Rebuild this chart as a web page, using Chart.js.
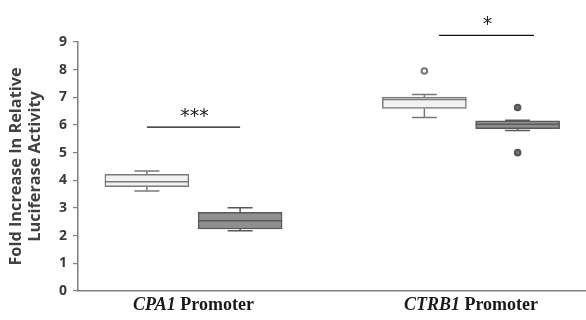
<!DOCTYPE html>
<html lang="en">
<head>
<meta charset="UTF-8" />
<title>Luciferase box plot</title>
<style>
  html, body { margin: 0; padding: 0; background: #fff; overflow: hidden; }
  canvas { display: block; }
</style>
</head>
<body>
<canvas id="myChart" width="586" height="320"></canvas>
<script src="https://cdn.jsdelivr.net/npm/chart.js"></script>
<script>
// groups on the x axis
const groups = ['CPA1', 'CTRB1'];
const groupX = [1, 2];

// light boxes (first of each pair)
const lightMin = [3.61, 6.27];
const lightQ1 = [3.77, 6.60];
const lightMed = [3.95, 6.92];
const lightQ3 = [4.22, 7.01];
const lightMax = [4.34, 7.10];
const lightOutliers = [[], [7.95]];

// dark boxes (second of each pair)
const darkMin = [2.18, 5.80];
const darkQ1 = [2.24, 5.87];
const darkMed = [2.54, 6.03];
const darkQ3 = [2.84, 6.15];
const darkMax = [3.01, 6.17];
const darkOutliers = [[], [6.63, 5.00]];

// significance marks
const sigLabels = ['***', '*'];
const sigY = [5.92, 9.24];
const sigFrom = [0.832, 1.885];
const sigTo = [1.168, 2.227];

const yTicks = [0, 1, 2, 3, 4, 5, 6, 7, 8, 9];

const shift = 0.168;
const series = [
  { min: lightMin, q1: lightQ1, med: lightMed, q3: lightQ3, max: lightMax, out: lightOutliers,
    dx: -shift, fill: '#f2f2f2', line: '#7a7a7a', dotFill: '#ffffff', dotLine: '#777777' },
  { min: darkMin, q1: darkQ1, med: darkMed, q3: darkQ3, max: darkMax, out: darkOutliers,
    dx: shift, fill: '#8f8f8f', line: '#595959', dotFill: '#707070', dotLine: '#555555' }
];

const datasets = [];
series.forEach(function (s) {
  datasets.push({
    type: 'bar',
    data: groupX.map((g, i) => ({ x: g + s.dx, y: [s.q1[i], s.q3[i]] })),
    backgroundColor: s.fill,
    borderColor: s.line,
    borderWidth: 1.5,
    borderSkipped: false,
    grouped: false,
    barThickness: 84
  });
});
series.forEach(function (s) {
  const pts = [];
  groupX.forEach((g, i) => s.out[i].forEach(v => pts.push({ x: g + s.dx, y: v })));
  datasets.push({
    type: 'scatter',
    data: pts,
    pointRadius: 2.8,
    borderWidth: 2,
    backgroundColor: s.dotFill,
    borderColor: s.dotLine
  });
});

const boxExtras = {
  id: 'boxExtras',
  afterDatasetsDraw(chart) {
    const ctx = chart.ctx, y = chart.scales.y;
    ctx.save();
    series.forEach(function (s, d) {
      const meta = chart.getDatasetMeta(d);
      groupX.forEach(function (g, i) {
        const bar = meta.data[i];
        const cx = bar.x;
        const half = bar.width / 2;
        const cap = 12.5;
        ctx.strokeStyle = s.line;
        ctx.lineWidth = 1.5;
        ctx.beginPath();
        // whiskers
        ctx.moveTo(cx, y.getPixelForValue(s.q3[i]));
        ctx.lineTo(cx, y.getPixelForValue(s.max[i]));
        ctx.moveTo(cx - cap, y.getPixelForValue(s.max[i]));
        ctx.lineTo(cx + cap, y.getPixelForValue(s.max[i]));
        ctx.moveTo(cx, y.getPixelForValue(s.q1[i]));
        ctx.lineTo(cx, y.getPixelForValue(s.min[i]));
        ctx.moveTo(cx - cap, y.getPixelForValue(s.min[i]));
        ctx.lineTo(cx + cap, y.getPixelForValue(s.min[i]));
        // median
        ctx.moveTo(cx - half, y.getPixelForValue(s.med[i]));
        ctx.lineTo(cx + half, y.getPixelForValue(s.med[i]));
        ctx.stroke();
      });
    });
    ctx.restore();
  },
  afterDraw(chart) {
    const ctx = chart.ctx, x = chart.scales.x, y = chart.scales.y;
    ctx.save();
    // significance lines
    ctx.strokeStyle = '#111';
    ctx.lineWidth = 1.2;
    ctx.fillStyle = '#222';
    ctx.font = '19px "DejaVu Sans"';
    ctx.textAlign = 'center';
    ctx.textBaseline = 'alphabetic';
    sigLabels.forEach(function (lab, i) {
      const py = y.getPixelForValue(sigY[i]);
      const x1 = x.getPixelForValue(sigFrom[i]);
      const x2 = x.getPixelForValue(sigTo[i]);
      ctx.beginPath();
      ctx.moveTo(x1, py);
      ctx.lineTo(x2, py);
      ctx.stroke();
      ctx.fillText(lab, (x1 + x2) / 2 + 1, py - 5);
    });
    // x labels: italic gene name + "Promoter"
    ctx.textAlign = 'left';
    ctx.fillStyle = '#1a1a1a';
    groups.forEach(function (name, i) {
      const fItal = 'italic bold 18px "Liberation Serif"';
      const fReg = 'bold 18px "Liberation Serif"';
      ctx.font = fItal;
      const w1 = ctx.measureText(name).width;
      ctx.font = fReg;
      const rest = ' Promoter';
      const w2 = ctx.measureText(rest).width;
      const cx = x.getPixelForValue(groupX[i]);
      const left = cx - (w1 + w2) / 2;
      ctx.font = fItal;
      ctx.fillText(name, left, 310);
      ctx.font = fReg;
      ctx.fillText(rest, left + w1, 310);
    });
    ctx.restore();
  }
};

new Chart(document.getElementById('myChart'), {
  data: { datasets: datasets },
  options: {
    responsive: false,
    animation: false,
    layout: { autoPadding: false, padding: { top: 42, left: 0, right: 0, bottom: 0 } },
    plugins: { legend: { display: false }, tooltip: { enabled: false } },
    scales: {
      x: {
        type: 'linear',
        min: 0.5838,
        max: 2.4144,
        offset: false,
        grid: { display: false },
        border: { display: true, color: '#808080', width: 1.5 },
        ticks: { display: false },
        afterFit: function (scale) { scale.height = 29; }
      },
      y: {
        min: 0,
        max: 9,
        afterBuildTicks: function (scale) { scale.ticks = yTicks.map(v => ({ value: v })); },
        grid: { display: true, drawOnChartArea: false, drawTicks: true, tickLength: 5, color: '#808080', lineWidth: 1.2 },
        border: { display: true, color: '#808080', width: 1.5 },
        ticks: { padding: 6, color: '#3a3a3a', font: { family: 'Open Sans', weight: 'bold', size: 14 } },
        title: {
          display: true,
          text: ['Fold Increase In Relative', 'Luciferase Activity'],
          color: '#404040',
          font: { family: 'Open Sans', weight: 'bold', size: 16.3, lineHeight: 1.17 },
          padding: { top: 7, bottom: 0 }
        },
        afterFit: function (scale) { scale.width = 78; }
      }
    }
  },
  plugins: [boxExtras]
});
</script>
</body>
</html>
